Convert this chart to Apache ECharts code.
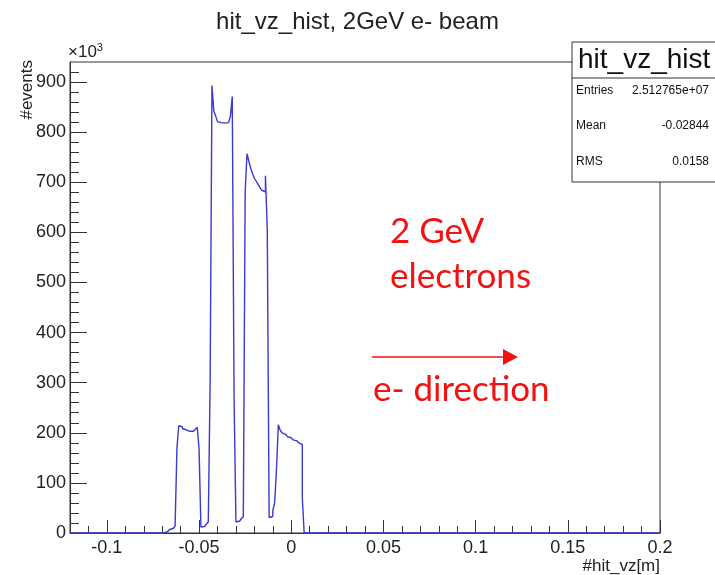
<!DOCTYPE html>
<html>
<head>
<meta charset="utf-8">
<title>hit_vz_hist</title>
<script src="https://cdn.jsdelivr.net/npm/echarts@6/dist/echarts.min.js"></script>
<style>
    html, body { margin: 0; padding: 0; background: #fff; }
    #main { width: 715px; height: 575px; }
</style>
</head>
<body>
<div id="main"></div>
<script>
// histogram binning (m) and counts per bin (x10^3 events)
const binStart = -0.071
const binWidth = 0.001
const counts = [
    0, 0, 1, 3, 5, 7, 9, 11, 14, 170,
    214, 212, 208, 206, 204, 203, 202, 203, 205, 207,
    211, 168, 12, 13, 15, 18, 22, 300, 893, 842,
    832, 821, 819, 818, 818, 818, 819, 820, 832, 871,
    265, 22, 24, 26, 29, 33, 680, 757, 742, 728,
    717, 708, 702, 696, 690, 684, 681, 713, 605, 31,
    33, 45, 60, 128, 216, 205, 200, 197, 194, 192,
    190, 188, 186, 184, 182, 180, 177, 70, 0
]

// axis ranges and labelled ticks
const xRange = [-0.12, 0.2]
const yRange = [0, 940]
const xTicks = [-0.1, -0.05, 0, 0.05, 0.1, 0.15, 0.2]
const yTicks = [0, 100, 200, 300, 400, 500, 600, 700, 800, 900]

// stats box
const statNames = ['Entries', 'Mean', 'RMS']
const statValues = ['2.512765e+07', '-0.02844', '0.0158']

const rootFont = 'Liberation Sans'
const noteFont = 'Lato'
const red = '#f21212'

const r6 = v => Math.round(v * 1e6) / 1e6

function buildOutline() {
    // ROOT style histogram outline: flat top per bin, vertical jumps at edges
    let pts = [[xRange[0], 0]]
    let prev = 0
    for (let i = 0; i < counts.length; i++) {
        let x = r6(binStart + i * binWidth)
        pts.push([x, prev])
        pts.push([x, counts[i]])
        prev = counts[i]
    }
    let last = r6(binStart + counts.length * binWidth)
    pts.push([last, prev])
    pts.push([last, 0])
    pts.push([xRange[1], 0])
    return pts
}

function minorTicks(lo, hi, step, majorStep) {
    let out = []
    let n = Math.round((hi - lo) / step)
    for (let i = 0; i <= n; i++) {
        let v = r6(lo + i * step)
        let r = v / majorStep
        if (Math.abs(r - Math.round(r)) > 1e-6) out.push(v)
    }
    return out
}

function statsGraphics() {
    let g = [{
        type: 'rect',
        shape: { x: 572, y: 42, width: 160, height: 140 },
        style: { fill: '#fff', stroke: '#333', lineWidth: 1 },
        z: 100
    }, {
        type: 'line',
        shape: { x1: 572, y1: 78, x2: 715, y2: 78 },
        style: { stroke: '#333', lineWidth: 1 },
        z: 101
    }, {
        type: 'text',
        x: 578, y: 60,
        style: { text: 'hit_vz_hist', font: '28px "' + rootFont + '"', fill: '#111', textVerticalAlign: 'middle' },
        z: 101
    }]
    const rowY = [91, 126, 162]
    statNames.forEach((name, i) => {
        g.push({
            type: 'text', x: 576, y: rowY[i], z: 101,
            style: { text: name, font: '12px "' + rootFont + '"', fill: '#111', textVerticalAlign: 'middle' }
        })
        g.push({
            type: 'text', x: 709, y: rowY[i], z: 101,
            style: { text: statValues[i], font: '12px "' + rootFont + '"', fill: '#111', textAlign: 'right', textVerticalAlign: 'middle' }
        })
    })
    return g
}

function noteGraphics() {
    const big = '35px "' + noteFont + '"'
    return [
        { type: 'text', x: 390, y: 232, style: { text: '2 GeV', font: big, fill: red, textVerticalAlign: 'middle' } },
        { type: 'text', x: 390, y: 277, style: { text: 'electrons', font: big, fill: red, textVerticalAlign: 'middle' } },
        { type: 'line', shape: { x1: 372, y1: 357, x2: 505, y2: 357 }, style: { stroke: red, lineWidth: 1.5 } },
        { type: 'polygon', shape: { points: [[503, 349], [518, 357], [503, 365]] }, style: { fill: red } },
        { type: 'text', x: 373, y: 390, style: { text: 'e- direction', font: big, fill: red, textVerticalAlign: 'middle' } },
        // axis titles / exponent drawn as free text like ROOT does
        {
            type: 'text', x: 68, y: 52,
            style: {
                text: '{a|×10}{b|3}',
                rich: {
                    a: { fontSize: 17, fontFamily: rootFont, fill: '#222' },
                    b: { fontSize: 11, fontFamily: rootFont, fill: '#222', verticalAlign: 'top', padding: [0, 0, 9, 0] }
                },
                textVerticalAlign: 'middle'
            }
        },
        {
            type: 'text', x: 27, y: 60, rotation: Math.PI / 2,
            style: { text: '#events', font: '17px "' + rootFont + '"', fill: '#222', textAlign: 'right', textVerticalAlign: 'middle' }
        },
        {
            type: 'text', x: 660, y: 566,
            style: { text: '#hit_vz[m]', font: '17px "' + rootFont + '"', fill: '#222', textAlign: 'right', textVerticalAlign: 'middle' }
        }
    ]
}

function setOption(chart) {
    const axisColor = '#333'
    const option = {
        animation: false,
        title: {
            text: 'hit_vz_hist, 2GeV e- beam',
            left: 'center',
            top: 5,
            textStyle: { fontFamily: rootFont, fontSize: 24, fontWeight: 'normal', color: '#222' }
        },
        grid: {
            left: 70, right: 55, top: 62, bottom: 42,
            show: true, borderColor: axisColor, borderWidth: 1,
            outerBoundsMode: 'none'
        },
        xAxis: [{
            type: 'value', min: xRange[0], max: xRange[1],
            splitLine: { show: false },
            axisLine: { show: true, onZero: false, lineStyle: { color: axisColor } },
            axisTick: { show: true, inside: true, length: 13, customValues: xTicks, lineStyle: { color: axisColor } },
            axisLabel: {
                customValues: xTicks, margin: 6,
                fontFamily: rootFont, fontSize: 18, color: '#222',
                formatter: v => String(v)
            }
        }, {
            type: 'value', min: xRange[0], max: xRange[1], position: 'bottom',
            splitLine: { show: false },
            axisLine: { show: false, onZero: false },
            axisTick: { show: true, inside: true, length: 7, customValues: minorTicks(xRange[0], xRange[1], 0.01, 0.05), lineStyle: { color: axisColor } },
            axisLabel: { show: false }
        }],
        yAxis: [{
            type: 'value', min: yRange[0], max: yRange[1],
            splitLine: { show: false },
            axisLine: { show: true, onZero: false, lineStyle: { color: axisColor } },
            axisTick: { show: true, inside: true, length: 17, customValues: yTicks, lineStyle: { color: axisColor } },
            axisLabel: {
                customValues: yTicks, margin: 4,
                fontFamily: rootFont, fontSize: 18, color: '#222'
            }
        }, {
            type: 'value', min: yRange[0], max: yRange[1], position: 'left',
            splitLine: { show: false },
            axisLine: { show: false, onZero: false },
            axisTick: { show: true, inside: true, length: 9, customValues: minorTicks(0, 920, 20, 100), lineStyle: { color: axisColor } },
            axisLabel: { show: false }
        }],
        series: [{
            name: 'hit_vz_hist',
            type: 'line',
            data: buildOutline(),
            xAxisIndex: 0,
            yAxisIndex: 0,
            symbol: 'none',
            clip: false,
            z: 5,
            lineStyle: { color: '#3a3ad0', width: 1.4 }
        }],
        graphic: noteGraphics().concat(statsGraphics())
    }
    chart.setOption(option)
}

const chart = echarts.init(document.getElementById('main'), null, { renderer: 'canvas' })
setOption(chart)
</script>
</body>
</html>
